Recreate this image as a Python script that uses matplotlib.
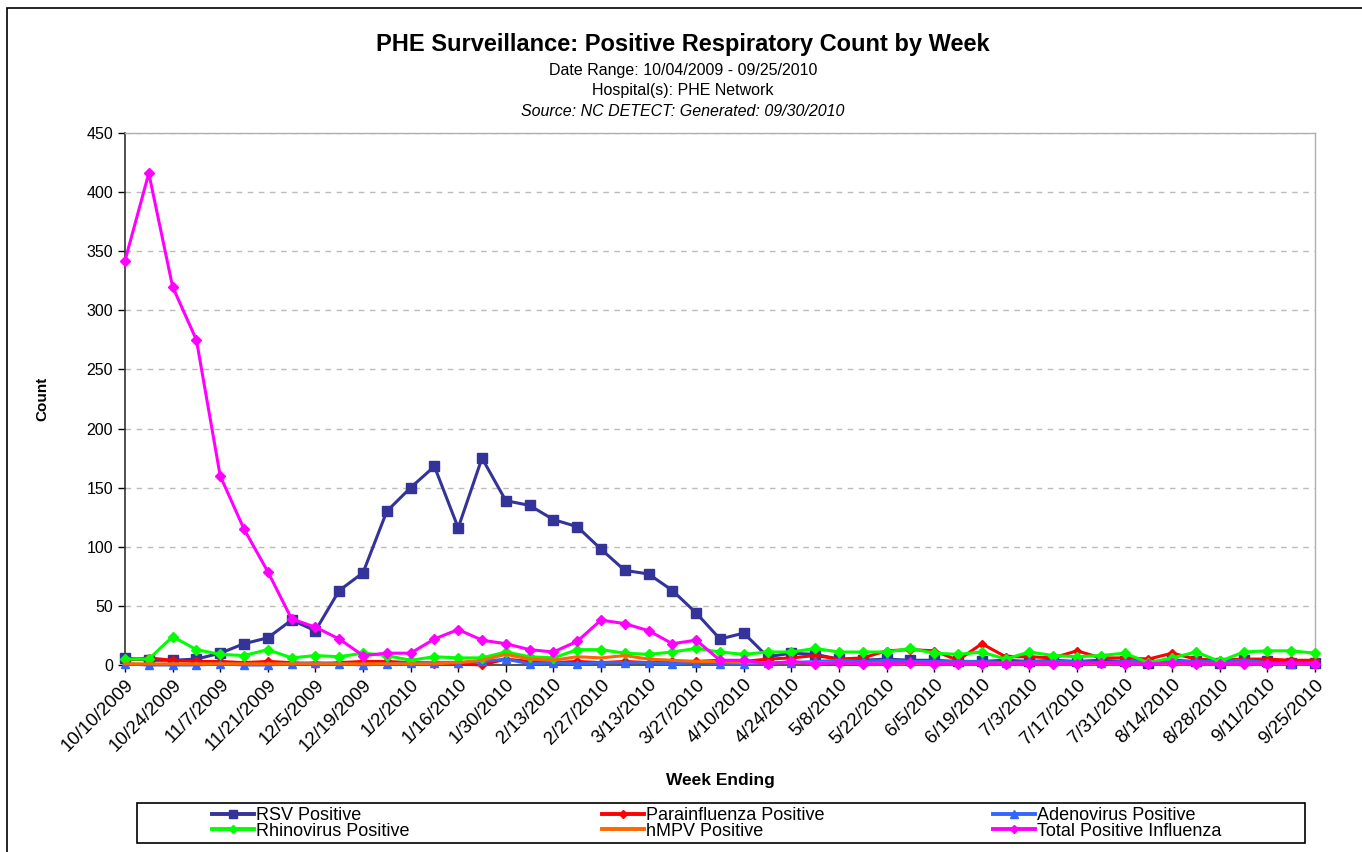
import matplotlib
matplotlib.use("Agg")
import matplotlib.pyplot as plt
from matplotlib.patches import Rectangle
from matplotlib.lines import Line2D
import pandas as pd
import numpy as np

plt.rcParams['font.family'] = ['Liberation Sans', 'DejaVu Sans']

weeks = pd.date_range('2009-10-10', periods=51, freq='7D')
week_labels = [f"{d.month}/{d.day}/{d.year}" for d in weeks]

rsv = [6, 4, 4, 5, 10, 18, 23, 38, 29, 63, 78, 130, 150, 168, 116, 175, 139, 135, 123, 117,
       98, 80, 77, 63, 44, 22, 27, 7, 10, 9, 5, 4, 5, 4, 4, 3, 3, 4, 3, 4,
       3, 4, 3, 2, 4, 3, 2, 4, 3, 2, 2]
parainfluenza = [4, 6, 4, 3, 3, 2, 3, 2, 1, 2, 3, 3, 2, 1, 1, 0, 5, 3, 2, 3,
                 2, 3, 2, 3, 3, 4, 3, 5, 6, 8, 5, 6, 12, 13, 12, 4, 18, 7, 7, 6,
                 12, 6, 6, 5, 10, 5, 4, 5, 5, 4, 4]
adenovirus = [1, 0, 0, 0, 1, 0, 0, 1, 2, 1, 0, 1, 2, 2, 2, 3, 5, 1, 2, 1,
              2, 2, 2, 1, 2, 1, 1, 2, 2, 3, 4, 3, 4, 3, 3, 3, 3, 2, 3, 3,
              3, 2, 3, 3, 3, 3, 3, 4, 2, 1, 2]
rhinovirus = [5, 5, 24, 13, 9, 8, 13, 6, 8, 7, 10, 8, 4, 7, 6, 6, 11, 7, 6, 13,
              13, 10, 9, 11, 14, 11, 9, 11, 11, 14, 11, 11, 11, 14, 10, 9, 11, 5, 11, 8,
              7, 8, 10, 2, 6, 11, 3, 11, 12, 12, 10]
hmpv = [1, 1, 1, 1, 1, 1, 1, 1, 1, 1, 1, 1, 1, 1, 2, 4, 9, 5, 4, 7,
        6, 8, 5, 4, 3, 3, 2, 2, 2, 2, 2, 1, 1, 1, 1, 1, 1, 1, 1, 1,
        1, 1, 1, 1, 1, 1, 1, 1, 1, 1, 1]
total_flu = [342, 416, 320, 275, 160, 115, 79, 39, 32, 22, 8, 10, 10, 22, 30, 21, 18, 13, 11, 20,
             38, 35, 29, 18, 21, 4, 4, 1, 3, 1, 2, 1, 1, 2, 1, 1, 1, 1, 1, 1,
             1, 2, 1, 1, 2, 1, 1, 1, 1, 2, 1]

W, H = 1362, 852
fig = plt.figure(figsize=(W / 100, H / 100), dpi=100)
fig.patch.set_facecolor('white')

# outer chart border
fig.add_artist(Rectangle((7 / W, -0.01), 1.05, 1 - 8 / H + 0.01, transform=fig.transFigure,
                         fill=False, edgecolor='black', linewidth=1.2))

left, right, top, bottom = 125, 1315, 133, 665
ax = fig.add_axes([left / W, 1 - bottom / H, (right - left) / W, (bottom - top) / H])
x = np.arange(len(weeks))

series = [
    (rsv, 'RSV Positive', '#333399', 's', 6.5),
    (parainfluenza, 'Parainfluenza Positive', '#FF0000', 'D', 4.5),
    (adenovirus, 'Adenovirus Positive', '#3366FF', '^', 6),
    (rhinovirus, 'Rhinovirus Positive', '#00FF00', 'D', 5),
    (hmpv, 'hMPV Positive', '#FF6600', None, 0),
    (total_flu, 'Total Positive Influenza', '#FF00FF', 'D', 5),
]
draw_order = [4, 1, 2, 3, 0, 5]
for k in draw_order:
    vals, name, col, mk, ms = series[k]
    ax.plot(x, vals, color=col, linewidth=2.2, marker=mk, markersize=ms,
            markeredgecolor=col, markerfacecolor=col, clip_on=False, zorder=3 + k * 0.1,
            label=name)

ax.set_xlim(0, 50)
ax.set_ylim(0, 450)
ax.set_yticks(np.arange(0, 451, 50))
ax.yaxis.grid(True, linestyle=(0, (4, 4)), color='#BBBBBB', linewidth=1)
ax.set_axisbelow(True)
ax.set_xticks(x[::2])
ax.set_xticklabels(week_labels[::2], rotation=45, ha='right', rotation_mode='anchor',
                   fontsize=13.5)
ax.tick_params(axis='x', length=5, width=1, direction='out', pad=3)
ax.tick_params(axis='y', length=5, width=1, direction='out', labelsize=11.5)
for s in ['top', 'right']:
    ax.spines[s].set_color('#B0B0B0')
    ax.spines[s].set_linewidth(1)
for s in ['left', 'bottom']:
    ax.spines[s].set_color('#333333')
    ax.spines[s].set_linewidth(1.2)

ax.set_ylabel('Count', fontsize=11, fontweight='bold', va='center')
ax.yaxis.set_label_coords((42 - left) / (right - left), 0.5)
ax.set_xlabel('Week Ending', fontsize=12.5, fontweight='bold', va='center')
ax.xaxis.set_label_coords((720 - left) / (right - left), -(780 - bottom) / (bottom - top))

fig.text(683 / W, 1 - 45 / H, 'PHE Surveillance: Positive Respiratory Count by Week',
         ha='center', va='center', fontsize=17, fontweight='bold')
fig.text(683 / W, 1 - 70 / H, 'Date Range: 10/04/2009 - 09/25/2010', ha='center', va='center', fontsize=11.5)
fig.text(683 / W, 1 - 90 / H, 'Hospital(s): PHE Network', ha='center', va='center', fontsize=11.5)
fig.text(683 / W, 1 - 111 / H, 'Source: NC DETECT: Generated: 09/30/2010', ha='center', va='center',
         fontsize=11.5, style='italic')

# legend frame
fig.add_artist(Rectangle((137 / W, 1 - 843 / H), (1305 - 137) / W, 40 / H, transform=fig.transFigure,
                         fill=False, edgecolor='black', linewidth=1.2, zorder=5))
col_x = [212, 602, 993]
col_items = [[0, 3], [1, 4], [2, 5]]
for cx, items in zip(col_x, col_items):
    hs = []
    for k in items:
        vals, name, col, mk, ms = series[k]
        hs.append(Line2D([], [], color=col, linewidth=2.8, marker=mk, markersize=ms * 0.85,
                         markeredgecolor=col, markerfacecolor=col, label=name))
    fig.legend(handles=hs, loc='center left', bbox_to_anchor=(cx / W, 1 - 823.5 / H),
               fontsize=13, frameon=False, borderpad=0, labelspacing=-0.1,
               handlelength=2.3, handletextpad=0.15, borderaxespad=0)

fig.savefig('out.png', dpi=100)
